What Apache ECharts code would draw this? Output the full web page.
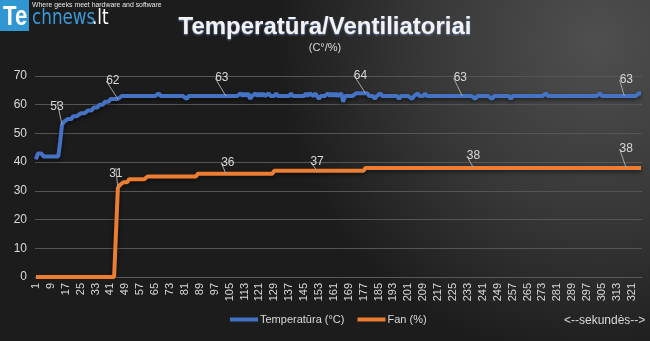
<!DOCTYPE html>
<html>
<head>
<meta charset="utf-8">
<script src="https://cdn.jsdelivr.net/npm/echarts@6/dist/echarts.min.js"></script>
<style>
  html, body { margin: 0; padding: 0; background: #2a2a2a; }
  #chart { width: 650px; height: 341px; }
</style>
</head>
<body>
<div id="chart"></div>
<script>
// Temperature (°C), one reading per second
const tempData = [
  41,43,43,43,42,42,42,42,42,42,42,42,42,47,53,54,54,55,55,55,
  56,56,56,56,57,57,57,57,58,58,58,59,59,59,60,60,60,61,61,61,
  62,62,62,62,62,62,63,63,63,63,63,63,63,63,63,63,63,63,63,63,
  63,63,63,63,63,63,64,63,63,63,63,63,63,63,63,63,63,63,63,63,
  63,62,63,63,63,63,63,63,63,63,63,63,63,63,63,63,63,63,63,63,
  63,63,63,63,63,63,63,63,63,63,64,63,64,63,64,62,63,63,64,63,
  64,63,64,63,63,64,63,63,63,64,63,63,63,63,63,63,63,64,63,63,
  63,63,63,63,63,64,63,64,64,63,64,63,62,63,63,63,63,64,63,64,
  63,64,63,63,64,61,63,63,63,63,63,63,64,64,64,64,64,64,64,63,
  63,63,62,63,63,64,63,63,63,63,63,63,63,63,63,62,63,63,63,63,
  63,63,62,63,63,64,63,63,63,64,63,63,63,63,63,63,63,63,63,63,
  63,63,63,63,63,63,63,63,63,63,63,63,63,63,63,63,62,63,63,63,
  63,63,63,63,63,62,63,63,63,63,63,63,63,63,63,62,63,63,63,63,
  63,63,63,63,63,63,63,63,63,63,63,63,63,63,64,63,63,63,63,63,
  63,63,63,63,63,63,63,63,63,63,63,63,63,63,63,63,63,63,63,63,
  63,63,63,64,63,63,63,63,63,63,63,63,63,63,63,63,63,63,63,63,
  63,63,63,63,64,64
];

// Fan speed (%), one reading per second
const fanData = [
  0,0,0,0,0,0,0,0,0,0,0,0,0,0,0,0,0,0,0,0,
  0,0,0,0,0,0,0,0,0,0,0,0,0,0,0,0,0,0,0,0,
  0,0,0,0,31,32,32,33,33,33,34,34,34,34,34,34,34,34,34,34,
  35,35,35,35,35,35,35,35,35,35,35,35,35,35,35,35,35,35,35,35,
  35,35,35,35,35,35,35,36,36,36,36,36,36,36,36,36,36,36,36,36,
  36,36,36,36,36,36,36,36,36,36,36,36,36,36,36,36,36,36,36,36,
  36,36,36,36,36,36,36,36,37,37,37,37,37,37,37,37,37,37,37,37,
  37,37,37,37,37,37,37,37,37,37,37,37,37,37,37,37,37,37,37,37,
  37,37,37,37,37,37,37,37,37,37,37,37,37,37,37,37,37,38,38,38,
  38,38,38,38,38,38,38,38,38,38,38,38,38,38,38,38,38,38,38,38,
  38,38,38,38,38,38,38,38,38,38,38,38,38,38,38,38,38,38,38,38,
  38,38,38,38,38,38,38,38,38,38,38,38,38,38,38,38,38,38,38,38,
  38,38,38,38,38,38,38,38,38,38,38,38,38,38,38,38,38,38,38,38,
  38,38,38,38,38,38,38,38,38,38,38,38,38,38,38,38,38,38,38,38,
  38,38,38,38,38,38,38,38,38,38,38,38,38,38,38,38,38,38,38,38,
  38,38,38,38,38,38,38,38,38,38,38,38,38,38,38,38,38,38,38,38,
  38,38,38,38,38,38
];

// Seconds on which a value label is printed
const tempLabelAt = [15, 45, 103, 178, 230, 317];
const fanLabelAt = [45, 103, 152, 236, 318];

// Label nudges (dx, dy) keyed by second
const tempLabelShift = { 15: [-5, -7], 45: [-5, -7], 103: [-4, -7], 178: [-5, -7], 230: [-2, -7], 317: [2, -5] };
const fanLabelShift = { 45: [-2, -3], 103: [2, 0], 152: [0, 2], 236: [0, -1], 318: [0, -8] };

const seconds = tempData.map((_, i) => String(i + 1));

function withLabels(values, labelAt) {
  return values.map((v, i) => labelAt.includes(i + 1)
    ? { value: v, label: { show: true } }
    : v);
}

function layoutFor(shifts) {
  return function (p) {
    const s = shifts[p.dataIndex + 1];
    return s ? { dx: s[0], dy: s[1] } : {};
  };
}

const TEXT = '#d9d9d9';
const FONT = 'Liberation Sans';

const chart = echarts.init(document.getElementById('chart'), null, { renderer: 'canvas' });

chart.setOption({
  animation: false,
  backgroundColor: {
    type: 'radial', x: 0.92, y: 0.12, r: 0.95,
    colorStops: [
      { offset: 0, color: '#4f4f4f' },
      { offset: 0.55, color: '#373737' },
      { offset: 1, color: '#1c1c1c' }
    ]
  },
  textStyle: { fontFamily: FONT },
  grid: { left: 35, right: 8, top: 76, bottom: 64, containLabel: false },
  xAxis: {
    type: 'category',
    data: seconds,
    boundaryGap: true,
    axisLine: { show: true, lineStyle: { color: '#5a5a5a', width: 1 } },
    axisTick: { show: false },
    axisLabel: { interval: 7, rotate: 90, color: TEXT, fontSize: 11, fontFamily: FONT, margin: 6 },
    splitLine: { show: false }
  },
  yAxis: {
    type: 'value',
    min: 0, max: 70, interval: 10,
    axisLine: { show: false },
    axisTick: { show: false },
    axisLabel: { color: TEXT, fontSize: 12, fontFamily: FONT, margin: 8 },
    splitLine: { lineStyle: { color: '#555555', width: 1 } }
  },
  legend: {
    left: 230, top: 314, padding: 0,
    itemWidth: 28, itemHeight: 4, itemGap: 13,
    icon: 'rect',
    textStyle: { color: TEXT, fontSize: 11, fontFamily: FONT, padding: [0, 0, 0, -3] },
    data: ['Temperatūra (°C)', 'Fan (%)']
  },
  series: [
    {
      name: 'Temperatūra (°C)',
      type: 'line',
      data: withLabels(tempData, tempLabelAt),
      symbol: 'circle', symbolSize: 0, showSymbol: true, showAllSymbol: true,
      color: '#4472c4',
      lineStyle: { color: '#4472c4', width: 4, shadowColor: 'rgba(0,0,0,0.55)', shadowBlur: 4, shadowOffsetY: 2 },
      label: { show: false, position: 'top', color: TEXT, fontSize: 12, fontFamily: FONT },
      labelLine: { show: true, lineStyle: { color: '#a6a6a6', width: 1 } },
      labelLayout: layoutFor(tempLabelShift),
      emphasis: { disabled: true },
      z: 3
    },
    {
      name: 'Fan (%)',
      type: 'line',
      data: withLabels(fanData, fanLabelAt),
      symbol: 'circle', symbolSize: 0, showSymbol: true, showAllSymbol: true,
      color: '#ed7d31',
      lineStyle: { color: '#ed7d31', width: 4, shadowColor: 'rgba(0,0,0,0.55)', shadowBlur: 4, shadowOffsetY: 2 },
      label: { show: false, position: 'top', color: TEXT, fontSize: 12, fontFamily: FONT },
      labelLine: { show: true, lineStyle: { color: '#a6a6a6', width: 1 } },
      labelLayout: layoutFor(fanLabelShift),
      emphasis: { disabled: true },
      z: 2
    }
  ],
  graphic: [
    // site badge
    { type: 'rect', left: 0, top: 0, shape: { width: 29, height: 31 }, style: { fill: '#3197d3' } },
    { type: 'text', x: 3, y: 4, scaleX: 0.82, style: { text: 'Te', fill: '#ffffff', font: 'bold 27px "Liberation Sans"' } },
    { type: 'text', x: 32, y: 8, scaleX: 0.8, style: { text: 'chnews', fill: '#3a9ad8', font: '21px "DejaVu Sans"' } },
    { type: 'text', x: 92, y: 8, scaleX: 0.8, style: { text: '.lt', fill: '#ffffff', font: '21px "DejaVu Sans"' } },
    { type: 'text', x: 32, y: 1, scaleX: 0.86, style: { text: 'Where geeks meet hardware and software', fill: '#e8e8e8', font: '8px "Liberation Sans"' } },
    // headings
    { type: 'text', x: 325, y: 27, style: {
        text: 'Temperatūra/Ventiliatoriai', fill: '#f2f2f2', align: 'center', verticalAlign: 'middle',
        font: 'bold 24px "Liberation Sans"', textShadowColor: 'rgba(120,150,210,0.8)', textShadowBlur: 2, textShadowOffsetY: 1
    } },
    { type: 'text', x: 325, y: 48, style: { text: '(C°/%)', fill: TEXT, align: 'center', verticalAlign: 'middle', font: '11px "Liberation Sans"' } },
    // time direction note
    { type: 'text', x: 564, y: 321, style: { text: '<--sekundės-->', fill: TEXT, verticalAlign: 'middle', font: '12px "Liberation Sans"' } }
  ]
});
</script>
</body>
</html>
